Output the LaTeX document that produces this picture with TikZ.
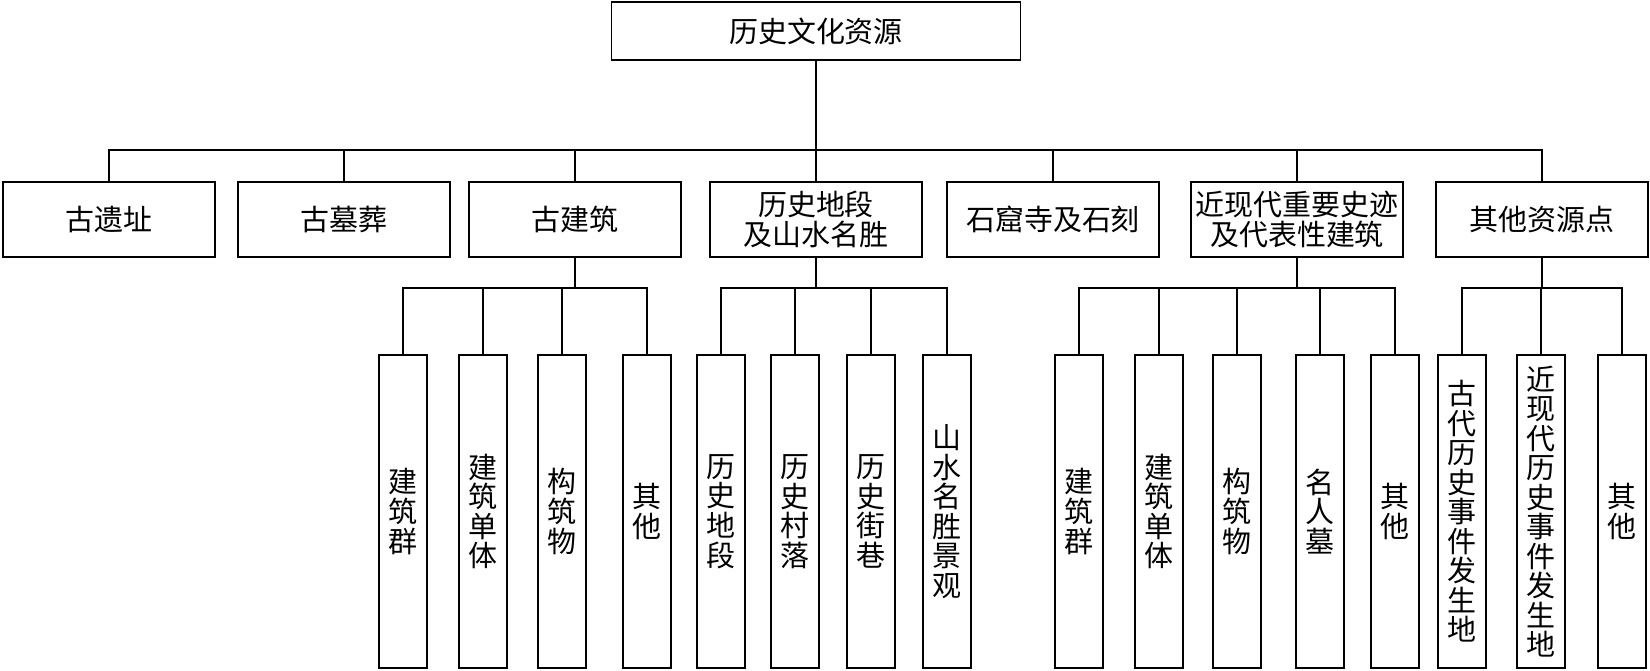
\documentclass[tikz,border=0pt]{standalone}
\usepackage{fontspec}
\setmainfont{Noto Sans CJK SC}

\begin{document}
\begin{tikzpicture}[x=0.02cm, y=-0.02cm, line width=0.9pt,
      every node/.style={font=\fontsize{16.5}{16.8}\selectfont, inner sep=0pt},
      rootbox/.style={draw, minimum width=8.18cm, minimum height=1.16cm},
      catbox/.style={draw, minimum width=4.24cm, minimum height=1.5cm, align=center},
      leafbox/.style={draw, minimum width=0.96cm, minimum height=6.26cm, align=center}]
    \useasboundingbox (0,0) rectangle (1650,671);
    % root
    \node[rootbox] (root) at (816,31) {历史文化资源};
    % categories
    \node[catbox] (C1) at (109,219.5) {古遗址};
    \node[catbox] (C2) at (344,219.5) {古墓葬};
    \node[catbox] (C3) at (575,219.5) {古建筑};
    \node[catbox] (C4) at (816,219.5) {历史地段\\及山水名胜};
    \node[catbox] (C5) at (1053,219.5) {石窟寺及石刻};
    \node[catbox] (C6) at (1297,219.5) {近现代重要史迹\\及代表性建筑};
    \node[catbox] (C7) at (1542,219.5) {其他资源点};
    % leaves of C3
    \node[leafbox] (C3a) at (403,511.5) {建\\筑\\群};
    \node[leafbox] (C3b) at (483,511.5) {建\\筑\\单\\体};
    \node[leafbox] (C3c) at (562,511.5) {构\\筑\\物};
    \node[leafbox] (C3d) at (647,511.5) {其\\他};
    % leaves of C4
    \node[leafbox] (C4a) at (721,511.5) {历\\史\\地\\段};
    \node[leafbox] (C4b) at (795,511.5) {历\\史\\村\\落};
    \node[leafbox] (C4c) at (871,511.5) {历\\史\\街\\巷};
    \node[leafbox] (C4d) at (947,511.5) {山\\水\\名\\胜\\景\\观};
    % leaves of C6
    \node[leafbox] (C6a) at (1079,511.5) {建\\筑\\群};
    \node[leafbox] (C6b) at (1159,511.5) {建\\筑\\单\\体};
    \node[leafbox] (C6c) at (1237,511.5) {构\\筑\\物};
    \node[leafbox] (C6d) at (1320,511.5) {名\\人\\墓};
    \node[leafbox] (C6e) at (1395,511.5) {其\\他};
    % leaves of C7
    \node[leafbox] (C7a) at (1462,511.5) {古\\代\\历\\史\\事\\件\\发\\生\\地};
    \node[leafbox] (C7b) at (1541,511.5) {近\\现\\代\\历\\史\\事\\件\\发\\生\\地};
    \node[leafbox] (C7c) at (1622,511.5) {其\\他};
    % bus points
    \coordinate (B0) at (816,150);
    \coordinate (B3) at (575,288);
    \coordinate (B4) at (816,288);
    \coordinate (B6) at (1297,288);
    \coordinate (B7) at (1542,288);
    % connectors
    \draw (root.south) -- (B0);
    \draw (B0) -| (C1.north);
    \draw (B0) -| (C2.north);
    \draw (B0) -| (C3.north);
    \draw (B0) -- (C4.north);
    \draw (B0) -| (C5.north);
    \draw (B0) -| (C6.north);
    \draw (B0) -| (C7.north);
    \draw (C3.south) -- (B3);
    \draw (B3) -| (C3a.north);
    \draw (B3) -| (C3b.north);
    \draw (B3) -| (C3c.north);
    \draw (B3) -| (C3d.north);
    \draw (C4.south) -- (B4);
    \draw (B4) -| (C4a.north);
    \draw (B4) -| (C4b.north);
    \draw (B4) -| (C4c.north);
    \draw (B4) -| (C4d.north);
    \draw (C6.south) -- (B6);
    \draw (B6) -| (C6a.north);
    \draw (B6) -| (C6b.north);
    \draw (B6) -| (C6c.north);
    \draw (B6) -| (C6d.north);
    \draw (B6) -| (C6e.north);
    \draw (C7.south) -- (B7);
    \draw (B7) -| (C7a.north);
    \draw (B7) -| (C7b.north);
    \draw (B7) -| (C7c.north);
  \end{tikzpicture}
\end{document}
